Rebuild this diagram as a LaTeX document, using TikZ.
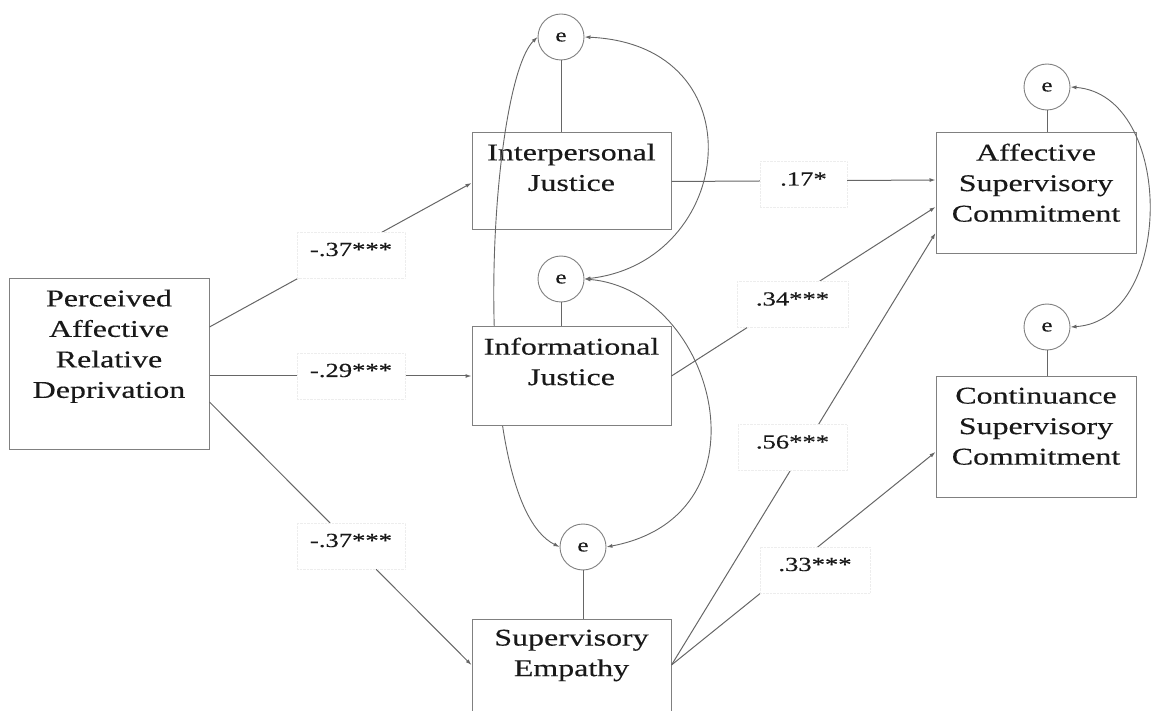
\documentclass[tikz,border=0pt]{standalone}
\usepackage{fontspec}
\setmainfont{Liberation Serif}[FakeStretch=1.33,FakeBold=0.3]
\usetikzlibrary{arrows.meta}
\begin{document}
\begin{tikzpicture}[x=1pt,y=-1pt,
  box/.style={draw=black!50, line width=1pt, rectangle, inner sep=0pt},
  wbox/.style={box, fill=white},
  txt/.style={align=center, font=\fontsize{24}{30.5}\selectfont, text=black!90, inner sep=0pt, anchor=north},
  err/.style={draw=black!50, line width=0.9pt, fill=white, circle, minimum size=46pt, inner sep=0pt, font=\fontsize{19}{19}\selectfont, text=black!90},
  conn/.style={draw=black!60, line width=1pt, -{Latex[length=6pt,width=4pt]}},
  plain/.style={draw=black!60, line width=1pt},
  cov/.style={draw=black!60, line width=0.9pt, {Latex[length=6pt,width=4pt]}-{Latex[length=6pt,width=4pt]}},
  coef/.style={fill=white, draw=black!7, densely dotted, inner sep=0pt, font=\fontsize{20}{20}\selectfont, text=black!90, text height=14pt, text depth=12pt, minimum height=46pt}
]
\useasboundingbox (0,0) rectangle (1152,711);
\clip (0,0) rectangle (1152,711);

% error terms
\node[err] (e1) at (561,37) {e};
\node[err] (e2) at (561,279) {e};
\node[err] (e3) at (583,547) {e};
\node[err] (e4) at (1047,87) {e};
\node[err] (e5) at (1047,327) {e};

% boxes drawn before covariance curves
\node[wbox, minimum width=199pt, minimum height=97pt] (ip) at (571.5,181.5) {};
\node[txt] (iptxt) at ([yshift=-11pt]ip.north) {Interpersonal\\Justice};
\node[wbox, minimum width=200pt, minimum height=170pt] (pard) at (109,364) {};
\node[txt] (pardtxt) at ([yshift=-11pt]pard.north) {Perceived\\Affective\\Relative\\Deprivation};
\node[wbox, minimum width=200pt, minimum height=121pt] (aff) at (1036,193.5) {};
\node[txt] (afftxt) at ([yshift=-11pt]aff.north) {Affective\\Supervisory\\Commitment};
\node[wbox, minimum width=200pt, minimum height=120pt] (con) at (1036,437) {};
\node[txt] (contxt) at ([yshift=-11pt]con.north) {Continuance\\Supervisory\\Commitment};
\node[wbox, minimum width=199pt, minimum height=100pt] (emp) at (571.5,669) {};
\node[txt] (emptxt) at ([yshift=-11pt]emp.north) {Supervisory\\Empathy};

% covariances
\draw[cov] (e1.west) .. controls (488,85) and (466,500) .. (e3.west);
\draw[cov] (e1.east) .. controls (760,45) and (735,262) .. (e2.east);
\draw[cov] (e2.east) .. controls (715,290) and (775,515) .. (e3.east);
\draw[cov] (e4.east) .. controls (1175,95) and (1175,320) .. (e5.east);

% informational box hides the left covariance curve
\node[wbox, minimum width=199pt, minimum height=98pt] (inf) at (571.5,376) {};
\node[txt] (inftxt) at ([yshift=-11pt]inf.north) {Informational\\Justice};

% error links
\draw[plain] (e1.south) -- (e1.south |- ip.north);
\draw[plain] (e2.south) -- (e2.south |- inf.north);
\draw[plain] (e3.south) -- (e3.south |- emp.north);
\draw[plain] (e4.south) -- (e4.south |- aff.north);
\draw[plain] (e5.south) -- (e5.south |- con.north);

% paths
\draw[conn] ([yshift=37pt]pard.east) -- ([yshift=-1.5pt]ip.west);
\draw[conn] ([yshift=-12pt]pard.east) -- (inf.west);
\draw[conn] ([yshift=-38pt]pard.east) -- ([yshift=4pt]emp.west);
\draw[conn] (ip.east) -- ([yshift=13.5pt]aff.west);
\draw[conn] (inf.east) -- ([yshift=-13.5pt]aff.west);
\draw[conn] ([yshift=4pt]emp.east) -- ([yshift=-39.5pt]aff.west);
\draw[conn] ([yshift=4pt]emp.east) -- ([yshift=-15pt]con.west);

% coefficients
\node[coef, minimum width=108pt] (l1) at (351,255) {-.37***};
\node[coef, minimum width=108pt] (l2) at (351,376) {-.29***};
\node[coef, minimum width=108pt] (l3) at (351,546) {-.37***};
\node[coef, minimum width=87pt] (l4) at (803.5,184.5) {.17*};
\node[coef, minimum width=111pt] (l5) at (792.5,304.5) {.34***};
\node[coef, minimum width=109pt] (l6) at (792.5,447.5) {.56***};
\node[coef, minimum width=110pt] (l7) at (815,570) {.33***};
\end{tikzpicture}
\end{document}
